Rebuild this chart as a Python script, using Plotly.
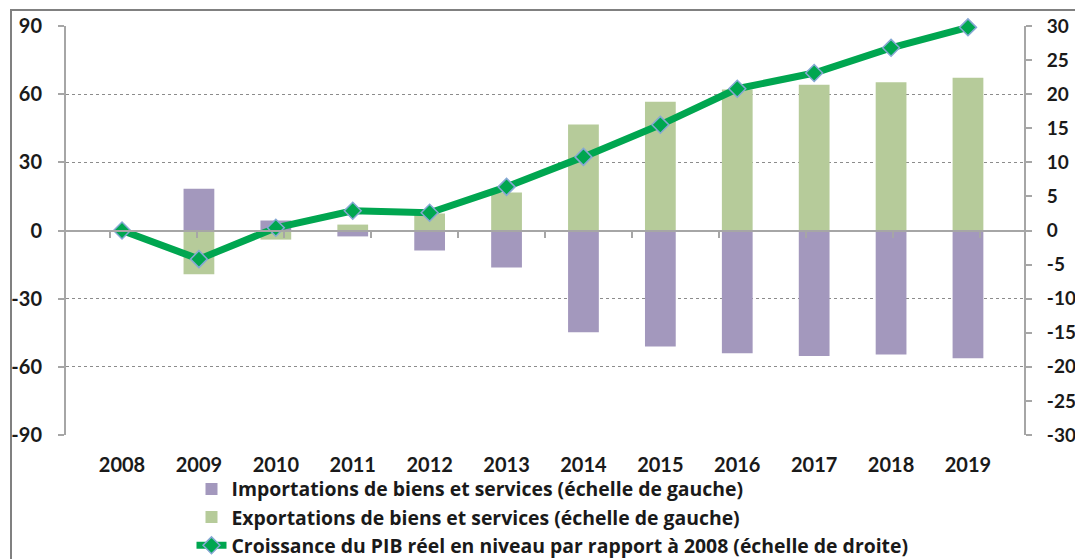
import plotly.graph_objects as go

years = ["2008", "2009", "2010", "2011", "2012", "2013", "2014", "2015", "2016", "2017", "2018", "2019"]
imports = [0, 18.4, 4.4, -2.6, -8.8, -16.3, -44.8, -51.0, -54.0, -55.2, -54.6, -56.2]
exports = [0, -19.3, -4.0, 2.6, 7.5, 16.7, 46.6, 56.7, 62.0, 64.1, 65.2, 67.2]
gdp = [0, -4.2, 0.4, 2.9, 2.6, 6.4, 10.8, 15.5, 20.8, 23.1, 26.8, 29.8]

left_ticks = [-90, -60, -30, 0, 30, 60, 90]
right_ticks = [-30, -25, -20, -15, -10, -5, 0, 5, 10, 15, 20, 25, 30]

names = [
    "Importations de biens et services (échelle de gauche)",
    "Exportations de biens et services (échelle de gauche)",
    "Croissance du PIB réel en niveau par rapport à 2008 (échelle de droite)",
]

FONT = "Lato"
FS = 20
AX = "#a6a6a6"
TXT = "#1a1a1a"
tf = dict(family=FONT, size=FS, color=TXT, weight=700)
rf = dict(family=FONT, size=19, color=TXT, weight=700)
lf = dict(family="Open Sans", size=19.4, color=TXT, weight=700)

fig = go.Figure()
fig.add_trace(go.Bar(x=years, y=imports, name=names[0], marker_color="#A398BD",
                     width=0.4, marker_line_width=0))
fig.add_trace(go.Bar(x=years, y=exports, name=names[1], marker_color="#B6CB9A",
                     width=0.4, marker_line_width=0))
fig.add_trace(go.Scatter(x=years, y=gdp, name=names[2], yaxis="y2", mode="lines+markers",
                         cliponaxis=False,
                         line=dict(color="#00A650", width=7),
                         marker=dict(symbol="diamond", size=13, color="#00A650",
                                     line=dict(color="#86A8D4", width=1.5))))
# helper trace for the x axis drawn through zero
fig.add_trace(go.Scatter(x=years, y=[None] * len(years), xaxis="x2", showlegend=False,
                         hoverinfo="skip", mode="lines"))

fig.update_layout(
    width=1075, height=559,
    margin=dict(l=66, r=51, t=26, b=124, autoexpand=False),
    paper_bgcolor="white", plot_bgcolor="white",
    barmode="relative",
    font=tf,
    showlegend=True,
    legend=dict(x=0.131, y=-0.085, xanchor="left", yanchor="top",
                font=lf, traceorder="normal", tracegroupgap=0,
                bgcolor="rgba(0,0,0,0)"),
    xaxis=dict(type="category", showline=False, ticks="", showgrid=False,
               automargin=False, ticklabelstandoff=16, tickfont=tf),
    xaxis2=dict(type="category", overlaying="x", anchor="free", position=0.5,
                showline=True, linecolor=AX, linewidth=2, ticks="outside",
                tickson="boundaries", ticklen=6, tickcolor=AX, tickwidth=2,
                showticklabels=False, showgrid=False, zeroline=False, automargin=False),
    yaxis=dict(range=[-90, 90], tickvals=left_ticks, ticktext=[str(v) for v in left_ticks],
               showline=True, linecolor=AX,
               linewidth=2, ticks="outside", ticklen=6, tickcolor=AX, tickwidth=2,
               showgrid=True, gridcolor="#8c8c8c", griddash="dot", gridwidth=1,
               zeroline=False, automargin=False, ticklabelstandoff=12, tickfont=tf),
    yaxis2=dict(range=[-30, 30], tickvals=right_ticks, ticktext=[str(v) for v in right_ticks],
                overlaying="y", side="right",
                showline=True, linecolor=AX, linewidth=2, ticks="outside", ticklen=6,
                tickcolor=AX, tickwidth=2, showgrid=False, zeroline=False,
                automargin=False, ticklabelstandoff=11, tickfont=rf),
)

fig.add_shape(type="rect", xref="paper", yref="paper",
              x0=(11 - 66) / 958, x1=(1080 - 66) / 958,
              y0=(435 - 570) / 409, y1=(435 - 10) / 409,
              line=dict(color="#808080", width=2), fillcolor="rgba(0,0,0,0)", layer="below")

fig.write_html("out.html", config={"displayModeBar": False},
               post_script="document.body.style.margin='0';document.body.style.overflow='hidden';")
